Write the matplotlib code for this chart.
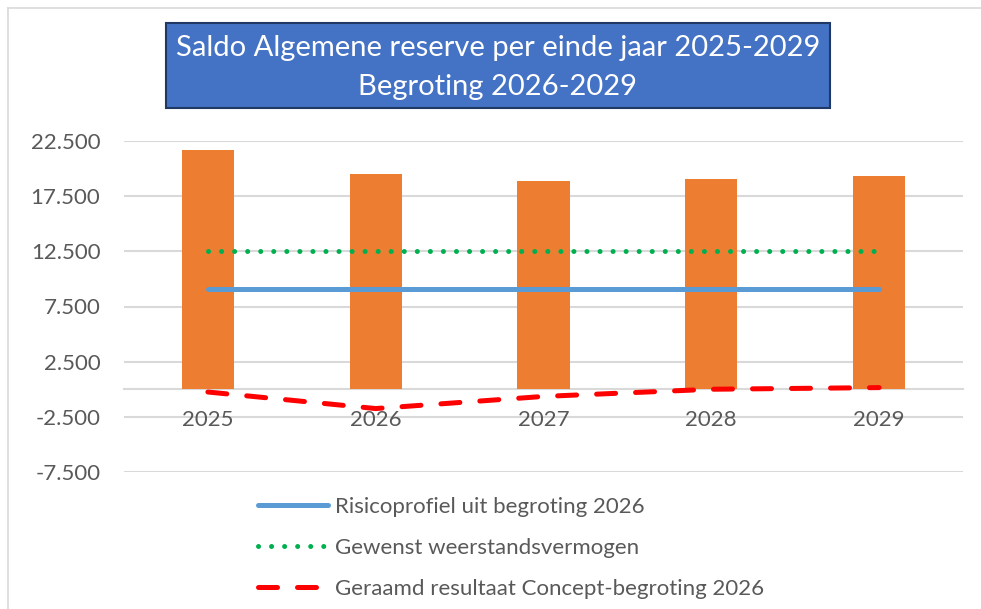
import matplotlib
matplotlib.use("Agg")
import matplotlib.pyplot as plt
from matplotlib.patches import Rectangle
from matplotlib.lines import Line2D

plt.rcParams['font.family'] = ['Lato', 'DejaVu Sans']

years = ["2025", "2026", "2027", "2028", "2029"]
saldo_reserve = [21700, 19500, 18900, 19100, 19350]
risicoprofiel = [9050, 9050, 9050, 9050, 9050]
gewenst = [12500, 12500, 12500, 12500, 12500]
geraamd = [-250, -1750, -650, 0, 150]
y_ticks = [22500, 17500, 12500, 7500, 2500, -2500, -7500]

title_lines = ["Saldo Algemene reserve per einde jaar 2025-2029", "Begroting 2026-2029"]
legend_labels = ["Risicoprofiel uit begroting 2026",
                 "Gewenst weerstandsvermogen",
                 "Geraamd resultaat Concept-begroting 2026"]

W, H = 981, 609
fig = plt.figure(figsize=(W / 100, H / 100), dpi=100)
fig.patch.set_facecolor('white')

def fx(px):
    return px / W

def fy(py):
    return 1 - py / H

# chart-area border lines (top and left)
fig.add_artist(Line2D([fx(8), 1], [fy(8), fy(8)], color='#d9d9d9', lw=1.2, transform=fig.transFigure))
fig.add_artist(Line2D([fx(8), fx(8)], [fy(8), 0], color='#d9d9d9', lw=1.2, transform=fig.transFigure))

ax = fig.add_axes([fx(124), fy(472), fx(963) - fx(124), fy(141) - fy(472)])
x = list(range(len(years)))

grid_c = '#d9d9d9'
text_c = '#595959'
ax.set_ylim(-7500, 22500)
ax.set_xlim(-0.5, len(years) - 0.5)
for v in y_ticks:
    ax.axhline(v, color=grid_c, lw=1.5, zorder=0)

ax.bar(x, saldo_reserve, width=0.31, color='#ED7D31', zorder=2)
ax.plot(x, risicoprofiel, color='#5B9BD5', lw=3.6, solid_capstyle='round', zorder=3,
        label=legend_labels[0])
ax.plot(x, gewenst, color='#00B050', lw=3.6, linestyle=(0, (0.01, 2.6)),
        dash_capstyle='round', zorder=3, label=legend_labels[1])
ax.plot(x, geraamd, color='#FF0000', lw=3.6, linestyle=(0, (3.8, 4.0)),
        dash_capstyle='round', zorder=4, label=legend_labels[2])

for s in ['top', 'right', 'left']:
    ax.spines[s].set_visible(False)
ax.spines['bottom'].set_position(('data', 0))
ax.spines['bottom'].set_color(grid_c)
ax.spines['bottom'].set_linewidth(1.5)
ax.spines['bottom'].set_zorder(1)

ax.set_yticks(y_ticks)
ax.set_yticklabels([f"{v:,.0f}".replace(',', '.') for v in y_ticks])
ax.set_xticks(x)
ax.set_xticklabels(years)
ax.tick_params(axis='y', length=0, pad=17, labelsize=16, labelcolor=text_c)
ax.tick_params(axis='x', length=0, pad=15, labelsize=16, labelcolor=text_c)

leg = ax.legend(loc='center left', bbox_to_anchor=(fx(258), fy(548)),
                bbox_transform=fig.transFigure, frameon=False, fontsize=16,
                handlelength=3.15, handletextpad=0.32, labelspacing=0.95,
                borderpad=0, borderaxespad=0)
for t in leg.get_texts():
    t.set_color(text_c)

# title box
fig.add_artist(Rectangle((fx(166), fy(108)), fx(830) - fx(166), fy(23) - fy(108),
                         transform=fig.transFigure, facecolor='#4472C4',
                         edgecolor='#203864', lw=1.5))
fig.text(fx(498), fy(48), title_lines[0], color='white', fontsize=21,
         ha='center', va='center')
fig.text(fx(498), fy(87), title_lines[1], color='white', fontsize=21,
         ha='center', va='center')

fig.savefig('out.png', dpi=100)
